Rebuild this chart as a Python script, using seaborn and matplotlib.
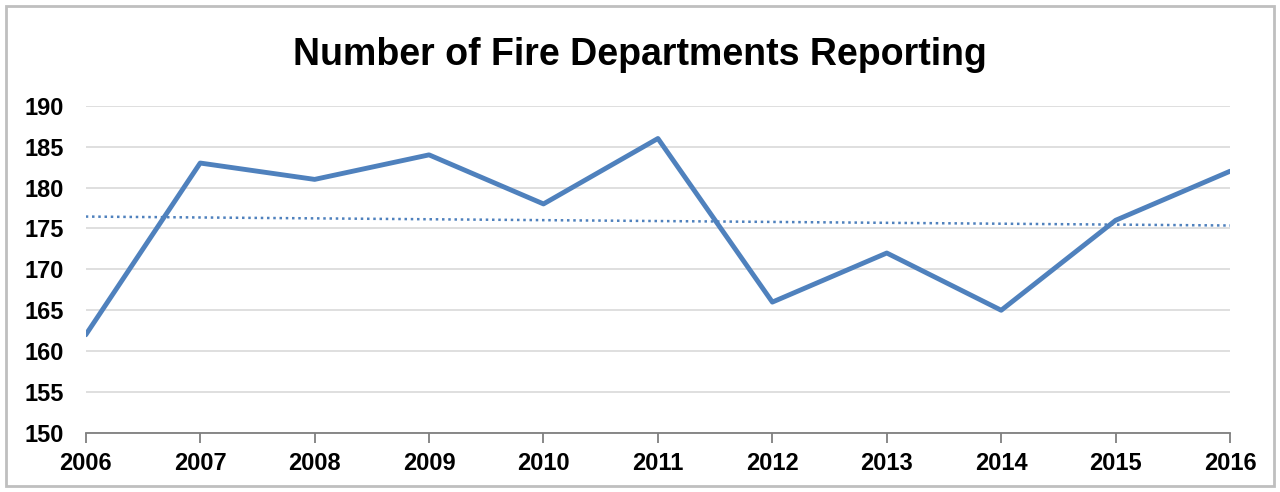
import numpy as np
import pandas as pd
import matplotlib
matplotlib.use("Agg")
import matplotlib.pyplot as plt
import seaborn as sns
from matplotlib.patches import Rectangle

years = [2006, 2007, 2008, 2009, 2010, 2011, 2012, 2013, 2014, 2015, 2016]
departments = [162, 183, 181, 184, 178, 186, 166, 172, 165, 176, 182]
y_ticks = [150, 155, 160, 165, 170, 175, 180, 185, 190]

df = pd.DataFrame({"year": years, "count": departments})

# linear trendline, like the one in the spreadsheet chart
slope, intercept = np.polyfit(df["year"], df["count"], 1)
df["trend"] = slope * df["year"] + intercept

sns.set_style("white")
plt.rcParams["font.family"] = ["Liberation Sans", "DejaVu Sans"]
plt.rcParams["text.color"] = "black"
plt.rcParams["xtick.color"] = "black"
plt.rcParams["ytick.color"] = "black"

blue = "#4F81BD"
fig, ax = plt.subplots(figsize=(12.8, 4.92), dpi=100)
fig.subplots_adjust(left=0.067, right=0.961, top=0.785, bottom=0.12)

sns.lineplot(data=df, x="year", y="trend", ax=ax, color=blue,
             linewidth=1.8, linestyle=(0, (1, 1.5)))
sns.lineplot(data=df, x="year", y="count", ax=ax, color=blue,
             linewidth=3.5)

ax.set_xlim(years[0], years[-1])
ax.set_ylim(y_ticks[0], y_ticks[-1])
ax.set_xticks(years)
ax.set_yticks(y_ticks)
ax.yaxis.grid(True, color="#D9D9D9", linewidth=1.2)
ax.set_axisbelow(True)
for s in ["top", "right", "left"]:
    ax.spines[s].set_visible(False)
ax.spines["bottom"].set_color("#7F7F7F")
ax.spines["bottom"].set_linewidth(1.3)
ax.tick_params(axis="x", bottom=True, length=7, width=1.3, color="#7F7F7F",
               labelcolor="black", pad=7, labelsize=17)
ax.tick_params(axis="y", left=False, pad=12, labelsize=17, labelcolor="black")
for lbl in ax.get_xticklabels() + ax.get_yticklabels():
    lbl.set_fontweight("bold")
ax.set_xlabel("")
ax.set_ylabel("")

fig.suptitle("Number of Fire Departments Reporting", fontsize=27,
             fontweight="bold", x=0.50, y=0.925, color="black")

fig.patches.append(Rectangle((0.005, 0.012), 0.99, 0.976, transform=fig.transFigure,
                             fill=False, edgecolor="#BFBFBF", linewidth=2))

fig.savefig("out.png", dpi=100)
